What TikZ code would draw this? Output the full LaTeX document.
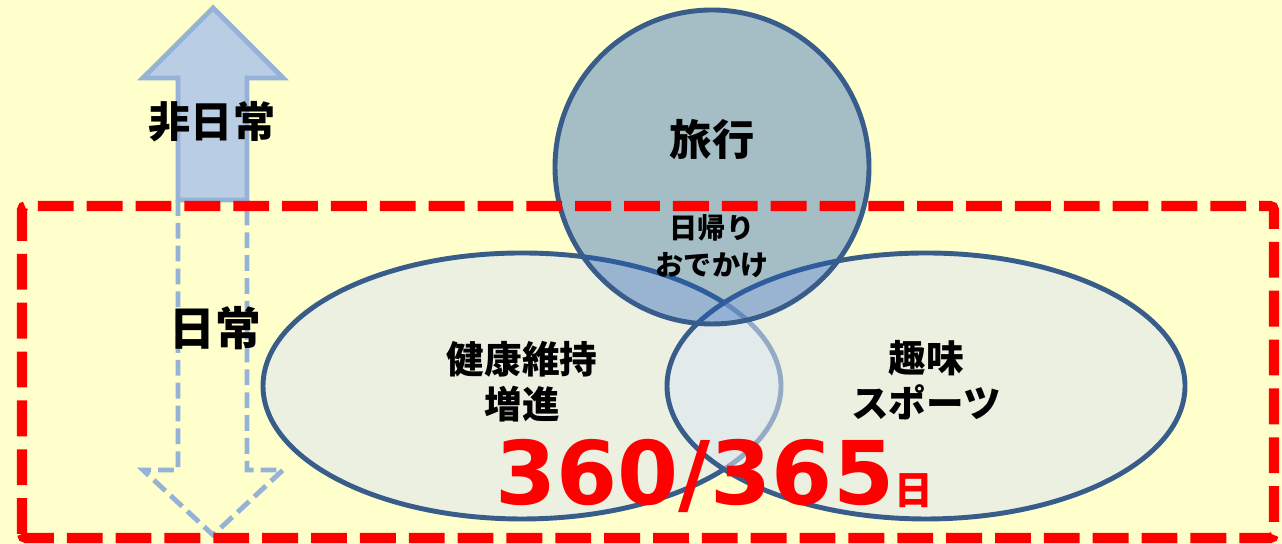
\documentclass[tikz,border=0pt]{standalone}
\usepackage{fontspec}
\newfontfamily\jp{Noto Sans CJK JP}
\newfontfamily\digits{DejaVu Sans}
\usepackage{tikz}
\usetikzlibrary{positioning}

\definecolor{paper}{HTML}{FFFFCC}
\definecolor{arrowfill}{HTML}{B9CDE5}
\definecolor{arrowline}{HTML}{95B3D7}
\definecolor{vennline}{HTML}{385D8A}
\definecolor{ovalfill}{HTML}{DCE6F2}
\definecolor{tripfill}{HTML}{205CB9}
\definecolor{alarm}{HTML}{FF0000}

\begin{document}
\begin{tikzpicture}[
    lbl/.style={font=\jp\bfseries, inner sep=0pt, align=center},
    oval/.style={draw=vennline, line width=1.4pt, fill=ovalfill, fill opacity=0.57},
    bigarrow/.style={draw=arrowline, line width=1.4pt, line join=miter}
]
    % Background and fixed size
    \fill[paper] (0,0) rectangle (12.82,5.44);
    \useasboundingbox (0,0) rectangle (12.82,5.44);

    % Arrow up (solid) and arrow down (dashed)
    \filldraw[bigarrow, fill=arrowfill] (2.13,5.36) -- (2.83,4.66) -- (2.47,4.66) -- (2.47,3.44)
        -- (1.78,3.44) -- (1.78,4.66) -- (1.43,4.66) -- cycle;
    \draw[bigarrow, dash pattern=on 4.5pt off 2pt] (1.78,3.44) -- (1.78,0.74) -- (1.43,0.74)
        -- (2.13,0.09) -- (2.83,0.74) -- (2.47,0.74) -- (2.47,3.44);

    % Venn shapes
    \filldraw[oval] (5.22,1.58) ellipse [x radius=2.59, y radius=1.33];
    \filldraw[oval] (9.26,1.58) ellipse [x radius=2.59, y radius=1.33];
    \filldraw[oval, fill=tripfill, fill opacity=0.4] (7.12,3.77) circle (1.57);

    % Labels
    \node[lbl, font=\jp\bfseries\fontsize{12}{14}\selectfont] (hinichijo) at (2.12,4.22) {非日常};
    \node[lbl, font=\jp\bfseries\fontsize{13}{15}\selectfont] (nichijo) at (2.15,2.16) {日常};
    \node[lbl, font=\jp\bfseries\fontsize{12}{14}\selectfont] (ryoko) at (7.12,4.04) {旅行};
    \node[lbl, font=\jp\bfseries\fontsize{8}{10.5}\selectfont] (higaeri) at (7.12,2.98) {日帰り\\おでかけ};
    \node[lbl, font=\jp\bfseries\fontsize{10.7}{12.8}\selectfont] (kenko) at (5.22,1.62) {健康維持\\増進};
    \node[lbl, font=\jp\bfseries\fontsize{10.7}{12.8}\selectfont] (shumi) at (9.26,1.64) {趣味\\スポーツ};

    % Everyday frame
    \draw[alarm, line width=2.9pt, dash pattern=on 10.2pt off 3.7pt, rounded corners=0.04cm]
        (0.22,0.06) rectangle (12.74,3.38);

    \node[anchor=base, inner sep=0pt, text=alarm] (days) at (7.14,0.39)
        {\digits\bfseries\fontsize{25}{25}\selectfont 360/365{\jp\bfseries\fontsize{11}{11}\selectfont 日}};
\end{tikzpicture}
\end{document}
